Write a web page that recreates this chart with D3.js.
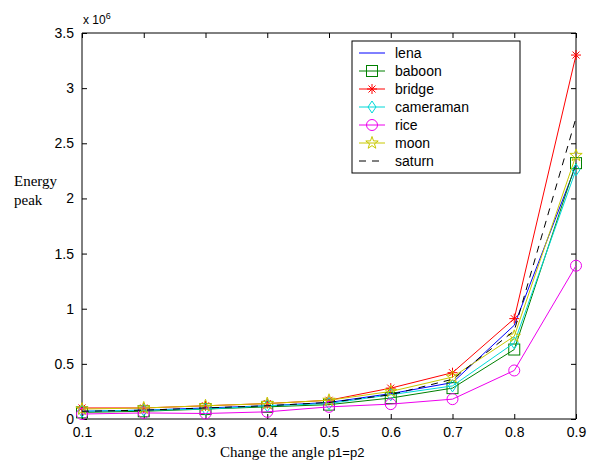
<!DOCTYPE html>
<html><head><meta charset="utf-8">
<script src="https://cdn.jsdelivr.net/npm/d3@7"></script>
<style>body{margin:0;background:#fff}svg{display:block}</style>
</head><body>
<script>
const angles = [0.1,0.2,0.3,0.4,0.5,0.6,0.7,0.8,0.9];
const lena      = [0.07,0.08,0.10,0.12,0.15,0.23,0.33,0.85,2.30];
const baboon    = [0.06,0.07,0.09,0.11,0.13,0.19,0.28,0.63,2.32];
const bridge    = [0.10,0.10,0.12,0.14,0.17,0.28,0.42,0.91,3.30];
const cameraman = [0.07,0.08,0.09,0.12,0.14,0.22,0.30,0.69,2.26];
const rice      = [0.045,0.055,0.05,0.065,0.11,0.135,0.18,0.44,1.39];
const moon      = [0.09,0.10,0.12,0.14,0.17,0.25,0.38,0.75,2.39];
const saturn    = [0.07,0.08,0.10,0.12,0.15,0.22,0.36,0.80,2.73];
const seriesNames = ["lena","baboon","bridge","cameraman","rice","moon","saturn"];
const xTicks = [0.1,0.2,0.3,0.4,0.5,0.6,0.7,0.8,0.9];
const yTicks = [0,0.5,1,1.5,2,2.5,3,3.5];

const series = [
  {name:"lena", values:lena, color:"#0000ff", marker:"none", dash:null},
  {name:"baboon", values:baboon, color:"#008000", marker:"square", dash:null},
  {name:"bridge", values:bridge, color:"#ff0000", marker:"asterisk", dash:null},
  {name:"cameraman", values:cameraman, color:"#00d8d8", marker:"diamond", dash:null},
  {name:"rice", values:rice, color:"#ee00ee", marker:"circle", dash:null},
  {name:"moon", values:moon, color:"#c8c800", marker:"star", dash:null},
  {name:"saturn", values:saturn, color:"#000000", marker:"none", dash:"7,6"}
];

const W=592,H=463;
const L=82,R=576,T=33,B=419;
const svg=d3.select("body").append("svg").attr("width",W).attr("height",H);
const x=d3.scaleLinear().domain([0.1,0.9]).range([L,R]);
const y=d3.scaleLinear().domain([0,3.5]).range([B,T]);

const gx=svg.append("g").attr("transform",`translate(0,${B})`)
  .call(d3.axisBottom(x).tickValues(xTicks).tickSize(-5).tickPadding(8).tickFormat(d3.format(".1f")));
const gxt=svg.append("g").attr("transform",`translate(0,${T})`)
  .call(d3.axisTop(x).tickValues(xTicks).tickSize(-5).tickFormat(""));
const gy=svg.append("g").attr("transform",`translate(${L},0)`)
  .call(d3.axisLeft(y).tickValues(yTicks).tickSize(-5).tickPadding(8).tickFormat(d=>d3.format("")(d)));
const gyr=svg.append("g").attr("transform",`translate(${R},0)`)
  .call(d3.axisRight(y).tickValues(yTicks).tickSize(-5).tickFormat(""));
[gx,gxt,gy,gyr].forEach(g=>{
  g.select(".domain").attr("stroke","#000").attr("stroke-width",1);
  g.selectAll(".tick line").attr("stroke","#000");
  g.selectAll("text").attr("font-family","Liberation Sans, Arial, sans-serif").attr("font-size",14).attr("fill","#000");
});
gx.selectAll(".domain").attr("d",`M${L},0H${R}`);
gxt.selectAll(".domain").attr("d",`M${L},0H${R}`);
gy.selectAll(".domain").attr("d",`M0,${T}V${B}`);
gyr.selectAll(".domain").attr("d",`M0,${T}V${B}`);

const ex=svg.append("text").attr("x",L+1).attr("y",T-9).attr("font-family","Liberation Sans, Arial, sans-serif").attr("font-size",12).attr("fill","#000");
ex.append("tspan").text("x 10");
ex.append("tspan").attr("dy",-5).attr("font-size",9).text("6");

svg.append("text").attr("x",14).attr("y",186).attr("font-family","Liberation Serif, Times New Roman, serif").attr("font-size",15).text("Energy");
svg.append("text").attr("x",14).attr("y",205).attr("font-family","Liberation Serif, Times New Roman, serif").attr("font-size",15).text("peak");
const xl=svg.append("text").attr("x",220).attr("y",457).attr("font-family","Liberation Serif, Times New Roman, serif").attr("font-size",15);
xl.append("tspan").text("Change the angle ");
xl.append("tspan").attr("font-family","Liberation Sans, Arial, sans-serif").attr("font-size",13).text("p1=p2");

function drawMarker(g,type,cx,cy,color){
  const s=g.append("g").attr("transform",`translate(${cx},${cy})`).attr("fill","none").attr("stroke",color).attr("stroke-width",1);
  if(type==="square") s.append("rect").attr("x",-5.5).attr("y",-5.5).attr("width",11).attr("height",11);
  else if(type==="circle") s.append("circle").attr("r",5.5);
  else if(type==="diamond") s.append("path").attr("d","M0,-6L4,0L0,6L-4,0Z");
  else if(type==="asterisk") s.append("path").attr("d","M-5,0H5M0,-5V5M-3.5,-3.5L3.5,3.5M-3.5,3.5L3.5,-3.5");
  else if(type==="star"){
    const pts=[];
    for(let i=0;i<10;i++){const r=i%2?2.6:6.5;const a=-Math.PI/2+i*Math.PI/5;pts.push([r*Math.cos(a),r*Math.sin(a)]);}
    s.append("path").attr("d","M"+pts.map(p=>p.join(",")).join("L")+"Z");
  }
}

const line=d3.line().x((d,i)=>x(angles[i])).y(d=>y(d));
const plot=svg.append("g");
series.forEach(s=>{
  plot.append("path").attr("d",line(s.values)).attr("fill","none").attr("stroke",s.color).attr("stroke-width",1)
    .attr("stroke-dasharray",s.dash);
  if(s.marker!=="none") s.values.forEach((v,i)=>drawMarker(plot,s.marker,x(angles[i]),y(v),s.color));
});

const lg=svg.append("g");
lg.append("rect").attr("x",352).attr("y",41).attr("width",168).attr("height",132).attr("fill","#fff").attr("stroke","#000");
series.forEach((s,i)=>{
  const yy=53+i*18;
  lg.append("line").attr("x1",359).attr("x2",385).attr("y1",yy).attr("y2",yy).attr("stroke",s.color).attr("stroke-dasharray",s.dash);
  if(s.marker!=="none") drawMarker(lg,s.marker,372,yy,s.color);
  lg.append("text").attr("x",395).attr("y",yy+5).attr("font-family","Liberation Sans, Arial, sans-serif").attr("font-size",14).text(s.name);
});
</script>
</body></html>
